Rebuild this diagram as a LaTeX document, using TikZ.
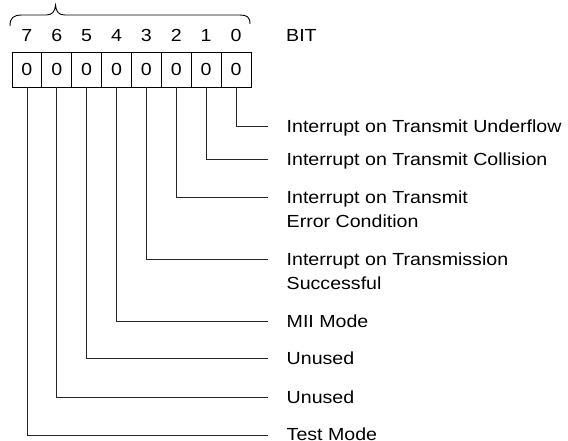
\documentclass[tikz,border=0pt]{standalone}
\usepackage{fontspec}
\setmainfont{Liberation Sans}[FakeStretch=1.12]
\begin{document}
\begin{tikzpicture}[x=1pt,y=-1pt,
  cell/.style={draw=black,line width=1pt,minimum width=29.875pt,minimum height=35pt,inner sep=0pt,outer sep=0pt,font=\fontsize{17.5}{24}\selectfont},
  bitnum/.style={inner sep=0pt,anchor=base,font=\fontsize{17.5}{24}\selectfont},
  lbl/.style={inner sep=0pt,anchor=base west,font=\fontsize{17.5}{24}\selectfont},
  conn/.style={draw=black!85,line width=0.8pt},
  brace/.style={draw=black,line width=0.9pt}]
\useasboundingbox (0,0) rectangle (568,440);
% register cells (bit 7 on the left)
\foreach \b [evaluate=\b as \cx using {12+29.875*(7-\b+0.5)}] in {0,...,7}{
  \node[cell] (c\b) at (\cx,69.5) {0};
  \node[bitnum] (n\b) at (\cx,41.5) {\b};
}
\node[lbl] (bit) at (286,41.5) {BIT};
% brace
\draw[brace] (10,26) .. controls (10,18) and (13,15) .. (22,15) -- (46,15)
  .. controls (52,15) and (55,12) .. (55.5,5)
  .. controls (56,12) and (59,15) .. (65,15) -- (240,15)
  .. controls (247,15) and (250,17) .. (250,24);
% labels and connectors
\def\lx{286.5}
\coordinate (e0) at (268,126);
\coordinate (e1) at (268,159.3);
\coordinate (e2) at (268,197.3);
\coordinate (e3) at (268,259);
\coordinate (e4) at (268,321.7);
\coordinate (e5) at (268,358.3);
\coordinate (e6) at (268,397.3);
\coordinate (e7) at (268,435);
\node[lbl] (t0) at (\lx,132) {Interrupt on Transmit Underflow};
\node[lbl] (t1) at (\lx,165.3) {Interrupt on Transmit Collision};
\node[lbl] (t2) at (\lx,203.3) {\begin{tabular}[t]{@{}l@{}}Interrupt on Transmit\\Error Condition\end{tabular}};
\node[lbl] (t3) at (\lx,265) {\begin{tabular}[t]{@{}l@{}}Interrupt on Transmission\\Successful\end{tabular}};
\node[lbl] (t4) at (\lx,327.7) {MII Mode};
\node[lbl] (t5) at (\lx,364.3) {Unused};
\node[lbl] (t6) at (\lx,403.3) {Unused};
\node[lbl] (t7) at (\lx,440) {Test Mode};
\foreach \b in {0,...,7}{
  \draw[conn] (c\b.south) |- (e\b);
}
\end{tikzpicture}
\end{document}
